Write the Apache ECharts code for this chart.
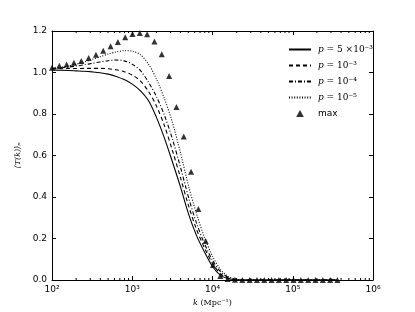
<!DOCTYPE html>
<html><head><meta charset="utf-8">
<script src="https://cdn.jsdelivr.net/npm/echarts@6/dist/echarts.min.js"></script>
<style>html,body{margin:0;padding:0;background:#fff}#c{width:415px;height:312px}</style>
</head><body><div id="c"></div>
<script>
// k values (Mpc^-1) for the curves
const lineK = [100,126,158,200,251,316,398,501,631,794,1000,1259,1585,1995,2512,3162,3981,5012,6310,7943,10000,12589,15849,19953,25119,50000,100000,355000];
const p5e3 = [1.012,1.011,1.010,1.008,1.006,1.003,0.999,0.992,0.981,0.966,0.944,0.913,0.866,0.785,0.685,0.570,0.450,0.320,0.215,0.135,0.065,0.022,0.006,0.001,0,0,0,0];
const p1e3 = [1.018,1.018,1.019,1.019,1.020,1.020,1.020,1.018,1.013,1.004,0.988,0.960,0.910,0.840,0.745,0.625,0.495,0.360,0.245,0.155,0.080,0.030,0.008,0.001,0,0,0,0];
const p1e4 = [1.020,1.022,1.026,1.031,1.037,1.044,1.051,1.057,1.060,1.056,1.040,1.010,0.955,0.885,0.795,0.680,0.545,0.400,0.275,0.175,0.095,0.040,0.012,0.002,0,0,0,0];
const p1e5 = [1.020,1.025,1.031,1.040,1.050,1.063,1.076,1.089,1.099,1.105,1.103,1.086,1.042,0.970,0.875,0.760,0.615,0.455,0.320,0.205,0.115,0.050,0.016,0.003,0,0,0,0];
// triangles
const maxK = [100,123.4,152.2,187.8,231.7,285.8,352.6,434.9,536.6,662.0,816.6,1007,1243,1533,1891,2333,2879,3551,4381,5405,6668,8226,10148,12520,15445,19055,23507,29001,35778,44140,54450,67174,82870,102236,126126,155597,191958,236809,292150,360411];
const maxV = [1.023,1.033,1.039,1.047,1.055,1.070,1.086,1.105,1.126,1.147,1.170,1.186,1.190,1.184,1.150,1.088,0.983,0.834,0.691,0.522,0.342,0.188,0.072,0.019,0.005,0.001,0,0,0,0,0,0,0,0,0,0,0,0,0,0];
const yTicks = {min:0, max:1.2, interval:0.2};
const xRange = {min:100, max:1000000};
const seriesNames = ['p5e3','p1e3','p1e4','p1e5','max'];
const legendLabels = {
  p5e3: '{i|p} = 5 ×10⁻³',
  p1e3: '{i|p} = 10⁻³',
  p1e4: '{i|p} = 10⁻⁴',
  p1e5: '{i|p} = 10⁻⁵',
  max: '{s|max}'
};
const supDigits = {'2':'²','3':'³','4':'⁴','5':'⁵','6':'⁶'};

const zip = (xs, ys) => xs.map((x,i)=>[x, ys[i]]);
const chart = echarts.init(document.getElementById('c'), null, {renderer:'canvas'});
const axisCommon = {
  axisLine:{show:true, onZero:false, lineStyle:{color:'#000', width:1}},
  splitLine:{show:false}
};
const lineSeries = (name, data, type, width) => ({
  name, type:'line', data:zip(lineK, data), symbol:'circle', showSymbol:false, smooth:0.3,
  lineStyle:{color:'#000', width, type}, itemStyle:{color:'#000'}, z:2
});
const legendData = seriesNames.map(n => n === 'max'
  ? {name:n, icon:'path://M0,9L5,0L10,9Z'}
  : {name:n, itemStyle:{opacity:0}});
chart.setOption({
  animation:false,
  backgroundColor:'#fff',
  grid:{left:52, right:42, top:31, bottom:32},
  xAxis:[
    Object.assign({type:'log', logBase:10, min:xRange.min, max:xRange.max, position:'bottom',
      axisTick:{show:true, inside:true, length:4, lineStyle:{color:'#000'}},
      axisLabel:{color:'#000', fontFamily:'DejaVu Sans', fontSize:9, margin:5,
        formatter:v=>{const e=Math.round(Math.log10(v)); return '10'+(supDigits[String(e)]||'');}},
      name:'{i|k} (Mpc⁻¹)', nameLocation:'middle', nameGap:17,
      nameTextStyle:{color:'#000', fontFamily:'DejaVu Serif', fontSize:8,
        rich:{i:{fontStyle:'italic', fontFamily:'DejaVu Serif', fontSize:8, color:'#000'}}}
    }, axisCommon),
    Object.assign({type:'log', logBase:10, min:xRange.min, max:xRange.max, position:'top',
      axisTick:{show:true, inside:true, length:4, lineStyle:{color:'#000'}},
      axisLabel:{show:false}}, axisCommon)
  ],
  yAxis:[
    Object.assign({type:'value', min:yTicks.min, max:yTicks.max, interval:yTicks.interval, position:'left',
      axisTick:{show:true, inside:true, length:4, lineStyle:{color:'#000'}},
      axisLabel:{color:'#000', fontFamily:'DejaVu Sans', fontSize:9, margin:5, formatter:v=>v.toFixed(1)},
      name:'⟨T(k)⟩ₚ', nameLocation:'middle', nameGap:21, nameRotate:90,
      nameTextStyle:{color:'#000', fontFamily:'DejaVu Serif', fontStyle:'italic', fontSize:8}
    }, axisCommon),
    Object.assign({type:'value', min:yTicks.min, max:yTicks.max, interval:yTicks.interval, position:'right',
      axisTick:{show:true, inside:true, length:4, lineStyle:{color:'#000'}},
      axisLabel:{show:false}}, axisCommon)
  ],
  legend:{
    left:283, top:40, orient:'vertical', itemWidth:22, itemHeight:7, itemGap:7,
    data:legendData, symbolKeepAspect:true,
    formatter:n=>legendLabels[n],
    textStyle:{color:'#000', fontFamily:'DejaVu Serif', fontSize:9, padding:[0,0,0,2],
      rich:{i:{fontStyle:'italic', fontFamily:'DejaVu Serif', fontSize:9, color:'#000'},
            s:{fontFamily:'DejaVu Sans', fontSize:9, color:'#000'}}}
  },
  series:[
    lineSeries('p5e3', p5e3, 'solid', 1.1),
    lineSeries('p1e3', p1e3, [4,3], 1.1),
    lineSeries('p1e4', p1e4, [4,2,1,2], 1.1),
    lineSeries('p1e5', p1e5, [1,1.6], 1.1),
    {name:'max', type:'scatter', data:zip(maxK, maxV), symbol:'triangle', symbolSize:6,
     itemStyle:{color:'#000'}, z:3}
  ]
});

// matplotlib-style minor log ticks (inward) on bottom and top
const minorVals = [];
for (let e=2; e<6; e++) for (let m=2; m<10; m++) minorVals.push(m*Math.pow(10,e));
const gfx = [];
minorVals.forEach(v=>{
  const pb = chart.convertToPixel({xAxisIndex:0, yAxisIndex:0}, [v, 0]);
  const pt = chart.convertToPixel({xAxisIndex:0, yAxisIndex:0}, [v, 1.2]);
  gfx.push({type:'line', shape:{x1:pb[0], y1:pb[1], x2:pb[0], y2:pb[1]-2}, style:{stroke:'#000', lineWidth:1}, z:10});
  gfx.push({type:'line', shape:{x1:pt[0], y1:pt[1], x2:pt[0], y2:pt[1]+2}, style:{stroke:'#000', lineWidth:1}, z:10});
});
chart.setOption({graphic:gfx});
</script></body></html>
